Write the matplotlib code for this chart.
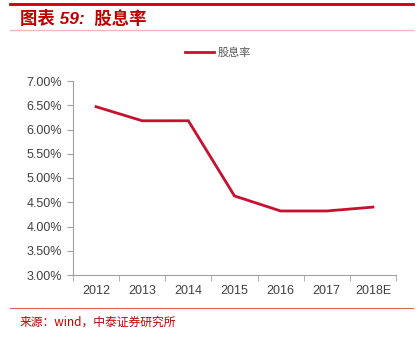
import matplotlib.pyplot as plt
from matplotlib.lines import Line2D
from matplotlib.ticker import FuncFormatter, FixedLocator, NullFormatter

plt.rcParams['font.family'] = ['Liberation Sans', 'Noto Sans CJK SC', 'DejaVu Sans']

# data
years = ['2012', '2013', '2014', '2015', '2016', '2017', '2018E']
dividend_yield = [6.47, 6.18, 6.18, 4.63, 4.32, 4.32, 4.40]

RED = '#C8102E'
TITLE_RED = '#C00000'
GREY = '#404040'

fig = plt.figure(figsize=(4.17, 3.42), dpi=100)
W, H = 417, 342

# axes box in pixel coords: left 73, right 396, top 81, bottom 275
ax = fig.add_axes([73 / W, 1 - 275 / H, (396 - 73) / W, (275 - 81) / H])

x = range(len(years))
ax.plot(x, dividend_yield, color=RED, linewidth=2, solid_joinstyle='miter')

ax.set_xlim(-0.5, len(years) - 0.5)
ax.set_ylim(3.0, 7.0)
ax.set_yticks([3.0 + 0.5 * i for i in range(9)])
ax.yaxis.set_major_formatter(FuncFormatter(lambda v, p: f'{v:.2f}%'))

# category labels centred, tick marks between categories
ax.set_xticks(list(x))
ax.set_xticklabels(years)
ax.tick_params(axis='x', which='major', length=0, pad=7)
ax.xaxis.set_minor_locator(FixedLocator([i - 0.5 for i in range(len(years) + 1)]))
ax.xaxis.set_minor_formatter(NullFormatter())
ax.tick_params(axis='x', which='minor', length=4, color='#A0A0A0')
ax.tick_params(axis='y', length=4, color='#A0A0A0', pad=4)
ax.tick_params(labelsize=9, labelcolor=GREY)

for side in ['top', 'right']:
    ax.spines[side].set_visible(False)
for side in ['left', 'bottom']:
    ax.spines[side].set_color('#A0A0A0')
    ax.spines[side].set_linewidth(0.8)

# legend
handle = Line2D([], [], color=RED, linewidth=2)
leg = fig.legend([handle], ['股息率'], loc='center', bbox_to_anchor=(218 / W, 1 - 53 / H),
                 frameon=False, handlelength=2.6, handletextpad=0.4,
                 prop={'family': ['Noto Sans CJK SC'], 'size': 8})
leg.get_texts()[0].set_color('#595959')

# title block with red rules
fig.add_artist(Line2D([10 / W, 1 - 4 / W], [1 - 4 / H, 1 - 4 / H], color=TITLE_RED, linewidth=2))
fig.text(20 / W, 1 - 18 / H, '图表 59:  股息率', color=TITLE_RED, fontsize=12.5,
         fontweight='bold', style='italic', va='center', ha='left',
         family=['Liberation Sans', 'Noto Sans CJK SC'])
fig.add_artist(Line2D([10 / W, 1 - 4 / W], [1 - 30 / H, 1 - 30 / H], color='#F2B8B8', linewidth=1))

# source line
fig.add_artist(Line2D([10 / W, 1 - 4 / W], [1 - 308 / H, 1 - 308 / H], color='#E06060', linewidth=0.8))
fig.text(20 / W, 1 - 322 / H, '来源：wind，中泰证券研究所', color=TITLE_RED, fontsize=8.5,
         va='center', ha='left', family=['Noto Sans CJK SC'])

fig.savefig('out.png', dpi=100)
